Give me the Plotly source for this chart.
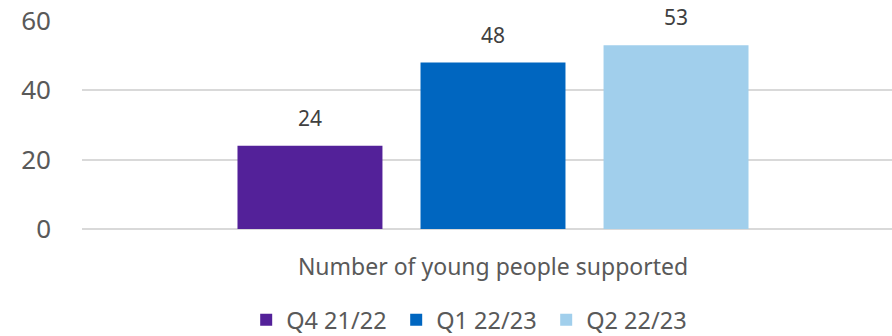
import plotly.graph_objects as go

category = ["Number of young people supported"]
series_names = ["Q4 21/22", "Q1 22/23", "Q2 22/23"]
series_values = [[24], [48], [53]]
colors = ["#532199", "#0066C0", "#A1CFEC"]
y_ticks = [0, 20, 40, 60]

fig = go.Figure()
for i, (name, vals, col) in enumerate(zip(series_names, series_values, colors)):
    fig.add_trace(go.Bar(
        x=category, y=vals, name=name, marker=dict(color=col, line=dict(width=0)),
        offsetgroup=str(i), hoverinfo="skip",
    ))
for i, vals in enumerate(series_values):
    fig.add_trace(go.Scatter(
        x=category, y=vals, mode="markers+text", offsetgroup=str(i),
        marker=dict(size=22, opacity=0), text=[str(v) for v in vals],
        textposition="top center", textfont=dict(size=21, color="#404040"),
        showlegend=False, cliponaxis=False, hoverinfo="skip",
    ))

fig.update_layout(
    width=892, height=336,
    margin=dict(l=82, r=0, t=21, b=107, autoexpand=False),
    paper_bgcolor="white", plot_bgcolor="white",
    font=dict(family="Noto Sans", color="#595959"),
    barmode="group", bargap=0.332, bargroupgap=0.208,
    scattermode="group", scattergap=0.332,
    showlegend=True,
    legend=dict(orientation="h", xref="container", x=0.276, xanchor="left",
                yref="container", y=0.048, yanchor="middle",
                font=dict(size=23.5, color="#595959"), traceorder="normal",
                entrywidth=105, entrywidthmode="pixels", tracegroupgap=0),
)
fig.update_xaxes(range=[-0.5, 0.4854], tickfont=dict(size=23, color="#595959"),
                 showgrid=False, showline=False, ticks="", ticklabelstandoff=22,
                 automargin=False)
fig.update_yaxes(range=[0, 60], tickvals=y_ticks, tickfont=dict(size=26, color="#595959"),
                 showgrid=True, gridcolor="#D9D9D9", gridwidth=1.5,
                 zeroline=True, zerolinecolor="#D9D9D9", zerolinewidth=1.5,
                 showline=False, ticks="", ticklabelstandoff=30, automargin=False)

fig.write_html("out.html", config={"displayModeBar": False},
               post_script="document.body.style.margin='0';")
